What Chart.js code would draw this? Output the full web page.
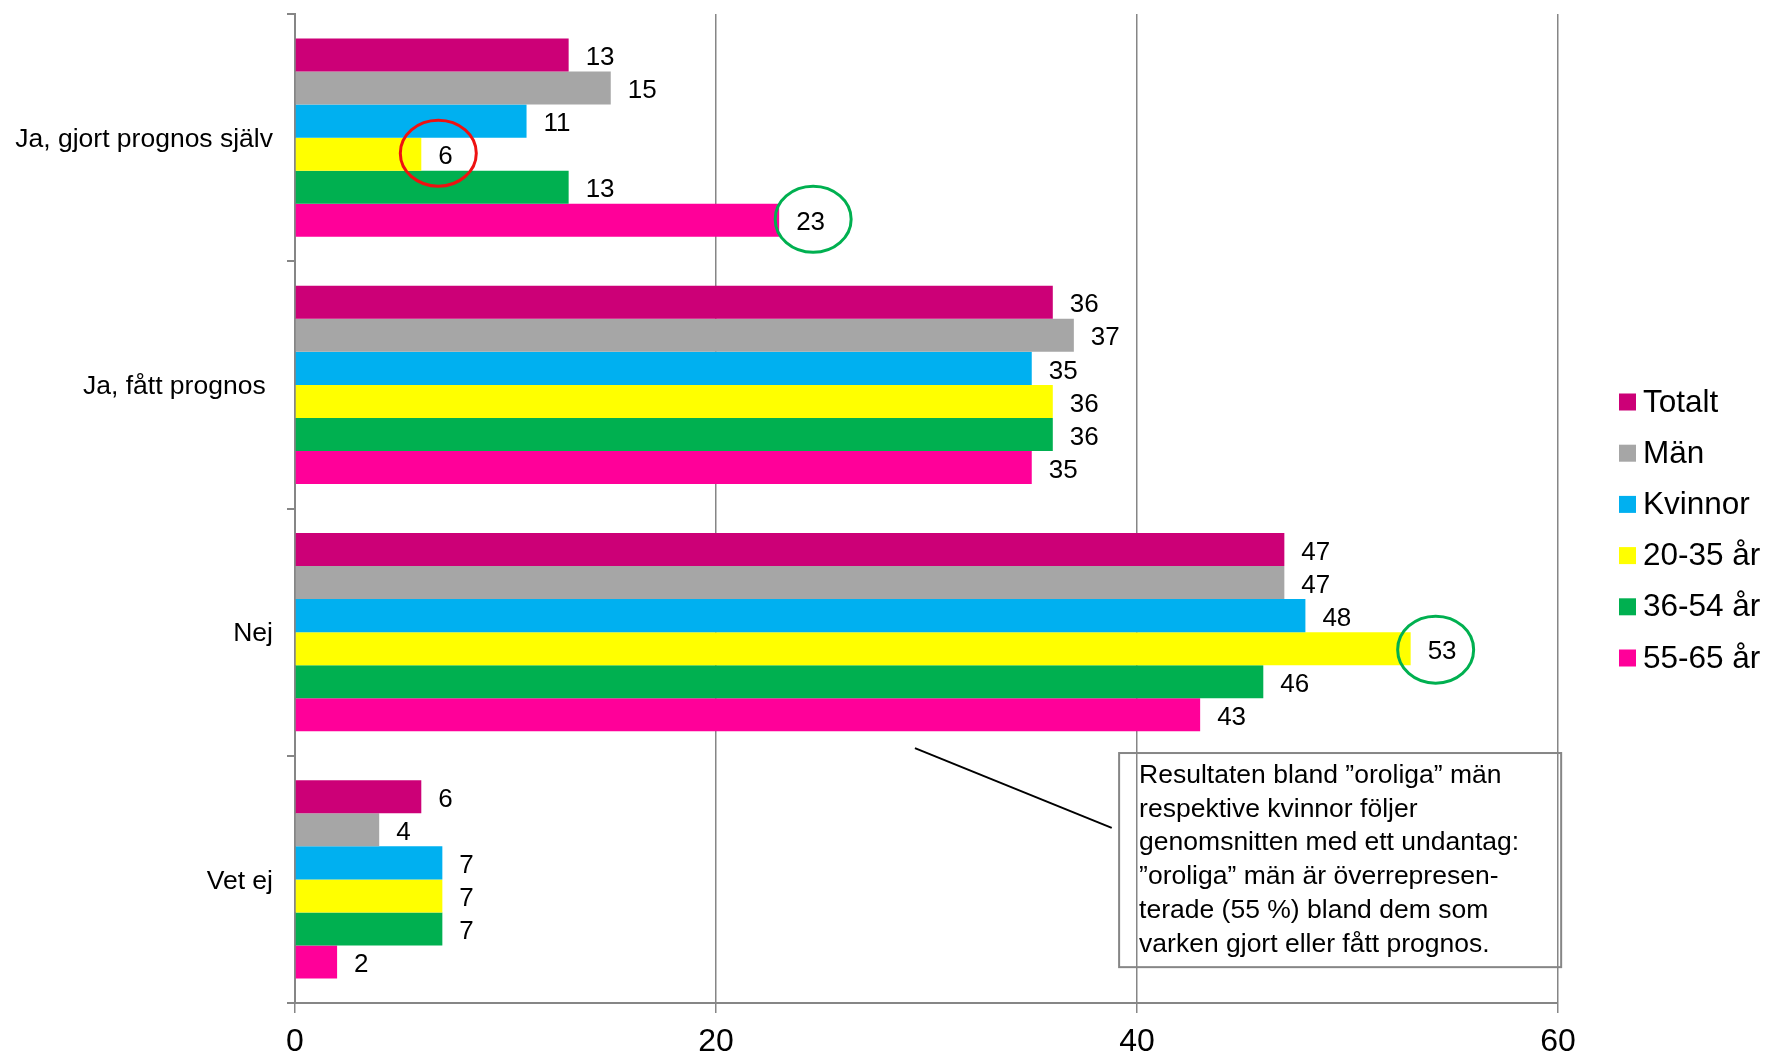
<!DOCTYPE html>
<html>
<head>
<meta charset="utf-8">
<style>
  html, body { margin: 0; padding: 0; background: #ffffff; }
  #wrap { width: 1767px; height: 1055px; }
</style>
<script src="https://cdn.jsdelivr.net/npm/chart.js@4/dist/chart.umd.min.js"></script>
</head>
<body>
<div id="wrap"><canvas id="c" width="1767" height="1055"></canvas></div>
<script>
// ---- data ----
const categories = ["Ja, gjort prognos själv", "Ja, fått prognos ", "Nej", "Vet ej"];
const seriesNames = ["Totalt", "Män", "Kvinnor", "20-35 år", "36-54 år", "55-65 år"];
const totalt = [13, 36, 47, 6];
const man = [15, 37, 47, 4];
const kvinnor = [11, 35, 48, 7];
const age20_35 = [6, 36, 53, 7];
const age36_54 = [13, 36, 46, 7];
const age55_65 = [23, 35, 43, 2];
const xTicks = [0, 20, 40, 60];
const noteLines = [
  "Resultaten bland \u201doroliga\u201d män",
  "respektive kvinnor följer",
  "genomsnitten med ett undantag:",
  "\u201doroliga\u201d män är överrepresen-",
  "terade (55 %) bland dem som",
  "varken gjort eller fått prognos."
];

// ---- styling ----
const FONT = '"Liberation Sans", Arial, sans-serif';
const colors = ["#CC0077", "#A6A6A6", "#00B0F0", "#FFFF00", "#00B050", "#FF0099"];
const seriesValues = [totalt, man, kvinnor, age20_35, age36_54, age55_65];
const AXIS_GREY = "#868686";

// highlighted labels
const highlights = [
  { ds: 3, idx: 0, color: "#EE1111", dx: 17, dy: -1, w: 76, h: 66 },
  { ds: 5, idx: 0, color: "#00B050", dx: 34, dy: -1, w: 76, h: 66 },
  { ds: 3, idx: 2, color: "#00B050", dx: 25, dy: 1, w: 76, h: 67 }
];

// callout in data units (x value, y category-position)
const note = { x0: 39.15, x1: 60.15, y0: 2.489, y1: 3.355,
               lineFrom: [29.45, 2.469], lineTo: [38.8, 2.792] };

const datasets = seriesNames.map((name, i) => ({
  label: name,
  data: seriesValues[i],
  backgroundColor: colors[i],
  borderWidth: 0,
  categoryPercentage: 0.8025,
  barPercentage: 1.0
}));

const valueLabels = {
  id: "valueLabels",
  afterDatasetsDraw(chart) {
    const ctx = chart.ctx;
    ctx.save();
    ctx.font = "26px " + FONT;
    ctx.fillStyle = "#000000";
    ctx.textAlign = "left";
    ctx.textBaseline = "middle";
    chart.data.datasets.forEach((ds, di) => {
      const meta = chart.getDatasetMeta(di);
      meta.data.forEach((bar, i) => {
        ctx.fillText(String(ds.data[i]), bar.x + 17, bar.y + 3);
      });
    });
    highlights.forEach(h => {
      const bar = chart.getDatasetMeta(h.ds).data[h.idx];
      ctx.beginPath();
      ctx.ellipse(bar.x + h.dx, bar.y + h.dy, h.w / 2, h.h / 2, 0, 0, Math.PI * 2);
      ctx.strokeStyle = h.color;
      ctx.lineWidth = 3;
      ctx.stroke();
    });
    ctx.restore();
  }
};

const callout = {
  id: "callout",
  afterDraw(chart) {
    const ctx = chart.ctx;
    const xs = chart.scales.x, ys = chart.scales.y;
    const X = v => xs.getPixelForValue(v);
    const Y = v => ys.getPixelForValue(v);
    ctx.save();
    ctx.beginPath();
    ctx.moveTo(X(note.lineFrom[0]), Y(note.lineFrom[1]));
    ctx.lineTo(X(note.lineTo[0]), Y(note.lineTo[1]));
    ctx.strokeStyle = "#000000";
    ctx.lineWidth = 2;
    ctx.stroke();
    const bx0 = X(note.x0), bx1 = X(note.x1), by0 = Y(note.y0), by1 = Y(note.y1);
    ctx.strokeStyle = AXIS_GREY;
    ctx.lineWidth = 2;
    ctx.strokeRect(bx0, by0, bx1 - bx0, by1 - by0);
    ctx.font = "26.5px " + FONT;
    ctx.fillStyle = "#000000";
    ctx.textAlign = "left";
    ctx.textBaseline = "alphabetic";
    noteLines.forEach((t, i) => {
      ctx.fillText(t, bx0 + 20, by0 + 30 + i * 33.7);
    });
    ctx.restore();
  }
};

const sideLegend = {
  id: "sideLegend",
  afterDraw(chart) {
    const ctx = chart.ctx;
    const a = chart.chartArea;
    const boxX = a.right + 61;
    const step = 51.2;
    const n = chart.data.datasets.length;
    const y0 = chart.height / 2 + 2.5 - step * (n - 1) / 2;
    ctx.save();
    ctx.font = "31.5px " + FONT;
    ctx.textAlign = "left";
    ctx.textBaseline = "middle";
    chart.data.datasets.forEach((ds, i) => {
      const cy = y0 + i * step;
      ctx.fillStyle = ds.backgroundColor;
      ctx.fillRect(boxX, cy - 8.5, 17, 17);
      ctx.fillStyle = "#000000";
      ctx.fillText(ds.label, boxX + 24, cy + 1);
    });
    ctx.restore();
  }
};

new Chart(document.getElementById("c"), {
  type: "bar",
  data: { labels: categories, datasets: datasets },
  plugins: [valueLabels, callout, sideLegend],
  options: {
    indexAxis: "y",
    responsive: false,
    animation: false,
    devicePixelRatio: 1,
    layout: { padding: { top: 14, right: 209, bottom: 0, left: 0 } },
    plugins: { legend: { display: false }, tooltip: { enabled: false } },
    scales: {
      x: {
        type: "linear",
        min: xTicks[0],
        max: xTicks[xTicks.length - 1],
        afterBuildTicks(scale) { scale.ticks = xTicks.map(v => ({ value: v })); },
        afterFit(scale) { scale.height = 52; scale.paddingLeft = 0; scale.paddingRight = 0; },
        ticks: { font: { size: 32, family: FONT }, color: "#000000", padding: 10 },
        grid: { color: AXIS_GREY, lineWidth: 1.5, tickLength: 10, drawTicks: true },
        border: { display: true, color: AXIS_GREY, width: 2 }
      },
      y: {
        type: "category",
        offset: true,
        afterFit(scale) { scale.width = 295; scale.paddingTop = 0; scale.paddingBottom = 0; },
        ticks: { font: { size: 26.5, family: FONT }, color: "#000000", padding: 14, labelOffset: 2 },
        grid: { offset: true, drawOnChartArea: false, drawTicks: true, tickLength: 8, color: AXIS_GREY, lineWidth: 2 },
        border: { display: true, color: AXIS_GREY, width: 2 }
      }
    }
  }
});
</script>
</body>
</html>
